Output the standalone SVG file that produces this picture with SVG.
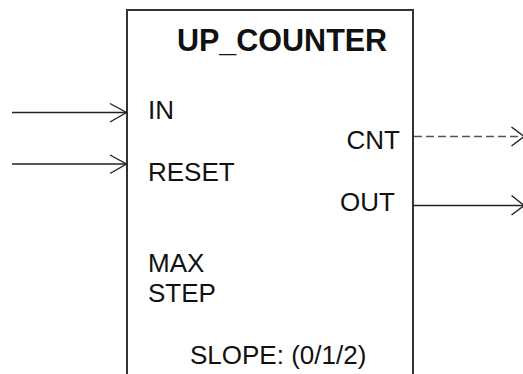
<svg xmlns="http://www.w3.org/2000/svg" width="523" height="374" viewBox="0 0 523 374">
<style>
.lbl{font-family:"Liberation Sans",Arial,sans-serif;font-size:26px;fill:#111}
.title{font-family:"Liberation Sans",Arial,sans-serif;font-size:30.5px;font-weight:bold;fill:#111}
.ln{stroke:#222;stroke-width:1.4;fill:none}
.dash{stroke:#555;stroke-width:1.6;fill:none;stroke-dasharray:8 4}
</style>
<rect width="523" height="374" fill="#fff"/>
<g id="up_counter">
<rect x="127" y="10" width="286" height="380" fill="#fff" stroke="#333" stroke-width="2"/>
<text class="title" x="177" y="50.5">UP_COUNTER</text>
<text class="lbl" x="148" y="119">IN</text>
<text class="lbl" x="148" y="180.5">RESET</text>
<text class="lbl" x="400" y="149" text-anchor="end">CNT</text>
<text class="lbl" x="395" y="211" text-anchor="end">OUT</text>
<text class="lbl" x="148" y="272">MAX</text>
<text class="lbl" x="148" y="302">STEP</text>
<text class="lbl" x="190" y="364">SLOPE: (0/1/2)</text>
</g>
<g id="connectors">
<line class="ln" x1="12" y1="112.5" x2="126" y2="112.5"/>
<polyline class="ln" points="110,103.5 126.5,112.5 110,122"/>
<line class="ln" x1="12" y1="164" x2="126" y2="164"/>
<polyline class="ln" points="110,155 126.5,164 110,173.5"/>
<line class="dash" x1="414" y1="136.5" x2="522" y2="136.5"/>
<polyline class="ln" points="511.5,127 524,136.5 511.5,146" stroke="#444"/>
<line class="ln" x1="414" y1="205.5" x2="523" y2="205.5"/>
<polyline class="ln" points="511.5,195.5 524,205.5 511.5,215"/>
</g>
</svg>
